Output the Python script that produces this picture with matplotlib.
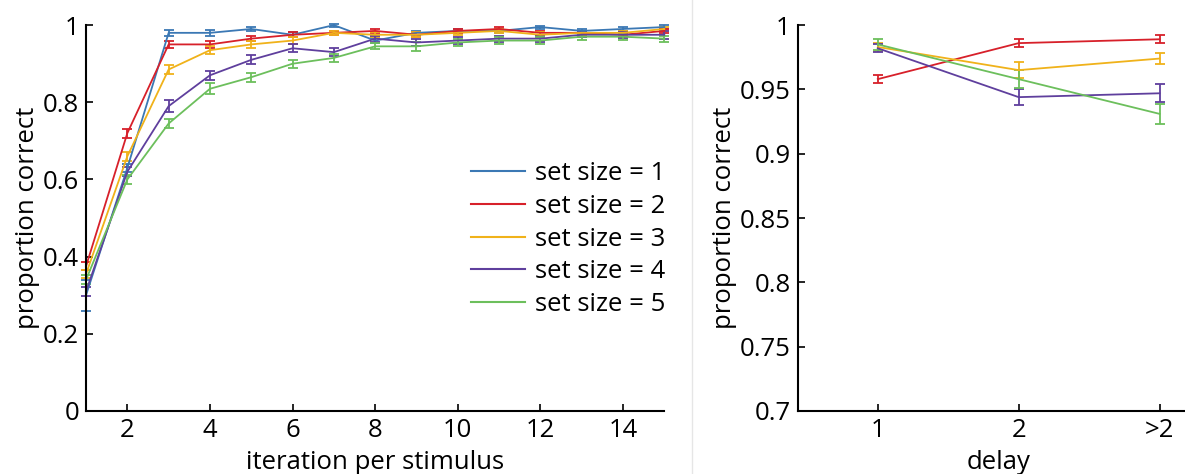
import matplotlib
matplotlib.use("Agg")
import matplotlib.pyplot as plt
from matplotlib.lines import Line2D

plt.rcParams['font.family'] = ['Open Sans', 'DejaVu Sans']

# datos: proporcion correcta por iteracion (panel izquierdo)
iteraciones = list(range(1, 16))
etiquetas = ['set size = 1', 'set size = 2', 'set size = 3', 'set size = 4', 'set size = 5']
colores = ['#3b78b4', '#d7202a', '#f0b21a', '#5f3f9d', '#6cbf5c']

ss1 = [0.300, 0.630, 0.980, 0.980, 0.990, 0.975, 1.000, 0.960, 0.980, 0.985, 0.985, 0.995, 0.985, 0.990, 0.995]
ss2 = [0.375, 0.720, 0.950, 0.950, 0.965, 0.975, 0.980, 0.985, 0.975, 0.985, 0.990, 0.980, 0.980, 0.975, 0.985]
ss3 = [0.355, 0.660, 0.885, 0.935, 0.950, 0.960, 0.980, 0.975, 0.975, 0.980, 0.985, 0.975, 0.980, 0.980, 0.990]
ss4 = [0.310, 0.620, 0.790, 0.870, 0.910, 0.940, 0.930, 0.965, 0.955, 0.960, 0.965, 0.965, 0.975, 0.975, 0.975]
ss5 = [0.340, 0.600, 0.745, 0.835, 0.865, 0.900, 0.915, 0.945, 0.945, 0.955, 0.960, 0.960, 0.970, 0.970, 0.965]

err1 = [0.040, 0.010, 0.008, 0.008, 0.005, 0.006, 0.004, 0.006, 0.006, 0.005, 0.005, 0.004, 0.005, 0.006, 0.005]
err2 = [0.010, 0.012, 0.008, 0.008, 0.007, 0.006, 0.005, 0.005, 0.006, 0.005, 0.004, 0.005, 0.005, 0.005, 0.005]
err3 = [0.010, 0.012, 0.012, 0.010, 0.010, 0.008, 0.006, 0.006, 0.007, 0.006, 0.006, 0.006, 0.006, 0.006, 0.005]
err4 = [0.012, 0.012, 0.015, 0.012, 0.012, 0.010, 0.010, 0.008, 0.010, 0.008, 0.008, 0.008, 0.007, 0.008, 0.010]
err5 = [0.012, 0.012, 0.012, 0.014, 0.012, 0.010, 0.010, 0.008, 0.012, 0.010, 0.010, 0.008, 0.008, 0.008, 0.008]

# datos: proporcion correcta por retraso (panel derecho, sin set size 1)
retrasos = [1, 2, 3]
etiquetas_retraso = ['1', '2', '>2']
r_ss2 = [0.958, 0.986, 0.989]
r_ss3 = [0.983, 0.965, 0.974]
r_ss4 = [0.982, 0.944, 0.947]
r_ss5 = [0.985, 0.958, 0.931]
r_err2 = [0.003, 0.003, 0.003]
r_err3 = [0.003, 0.006, 0.004]
r_err4 = [0.003, 0.006, 0.007]
r_err5 = [0.004, 0.007, 0.008]

fs = 18.5

fig = plt.figure(figsize=(11.85, 4.74), dpi=100)
ax1 = fig.add_axes([0.0726, 0.133, 0.488, 0.814])
ax2 = fig.add_axes([0.673, 0.133, 0.34, 0.814])

series = [ss1, ss2, ss3, ss4, ss5]
errores = [err1, err2, err3, err4, err5]
for y, e, c in zip(series, errores, colores):
    ax1.errorbar(iteraciones, y, yerr=e, color=c, lw=1.3, elinewidth=1.3,
                 capsize=3.5, capthick=1.3, clip_on=False)

ax1.set_xlim(1, 15)
ax1.set_ylim(0, 1)
ax1.set_xticks([2, 4, 6, 8, 10, 12, 14])
ax1.set_yticks([0, 0.2, 0.4, 0.6, 0.8, 1])
ax1.set_yticklabels(['0', '0.2', '0.4', '0.6', '0.8', '1'])
ax1.set_xlabel('iteration per stimulus', fontsize=fs, labelpad=5)
ax1.set_ylabel('proportion correct', fontsize=fs, labelpad=2)

manejadores = [Line2D([0], [0], color=c, lw=1.5) for c in colores]
ax1.legend(manejadores, etiquetas, loc='lower right', bbox_to_anchor=(1.02, 0.217),
           frameon=False, fontsize=fs, handlelength=2.1, handletextpad=0.4,
           labelspacing=0.3, borderaxespad=0)

series_r = [r_ss2, r_ss3, r_ss4, r_ss5]
errores_r = [r_err2, r_err3, r_err4, r_err5]
for y, e, c in zip(series_r, errores_r, colores[1:]):
    ax2.errorbar(retrasos, y, yerr=e, color=c, lw=1.3, elinewidth=1.3,
                 capsize=3.5, capthick=1.3)

ax2.set_xlim(0.43, 3.29)
ax2.set_ylim(0.7, 1)
ax2.set_xticks(retrasos)
ax2.set_xticklabels(etiquetas_retraso)
ax2.set_yticks([0.7, 0.75, 0.8, 0.85, 0.9, 0.95, 1])
ax2.set_yticklabels(['0.7', '0.75', '0.8', '0.85', '0.9', '0.95', '1'])
ax2.set_xlabel('delay', fontsize=fs, labelpad=5)
ax2.set_ylabel('proportion correct', fontsize=fs, labelpad=2)

for ax in (ax1, ax2):
    for s in ('top', 'right'):
        ax.spines[s].set_visible(False)
    ax.spines['left'].set_linewidth(1.5)
    ax.spines['bottom'].set_linewidth(1.5)
    ax.tick_params(direction='in', length=5, width=1.2, labelsize=fs, pad=5)

# linea separadora gris
fig.add_artist(Line2D([0.584, 0.584], [0, 1], color='#e6e6e6', lw=1))

fig.savefig('out.png', dpi=100)
plt.close(fig)
